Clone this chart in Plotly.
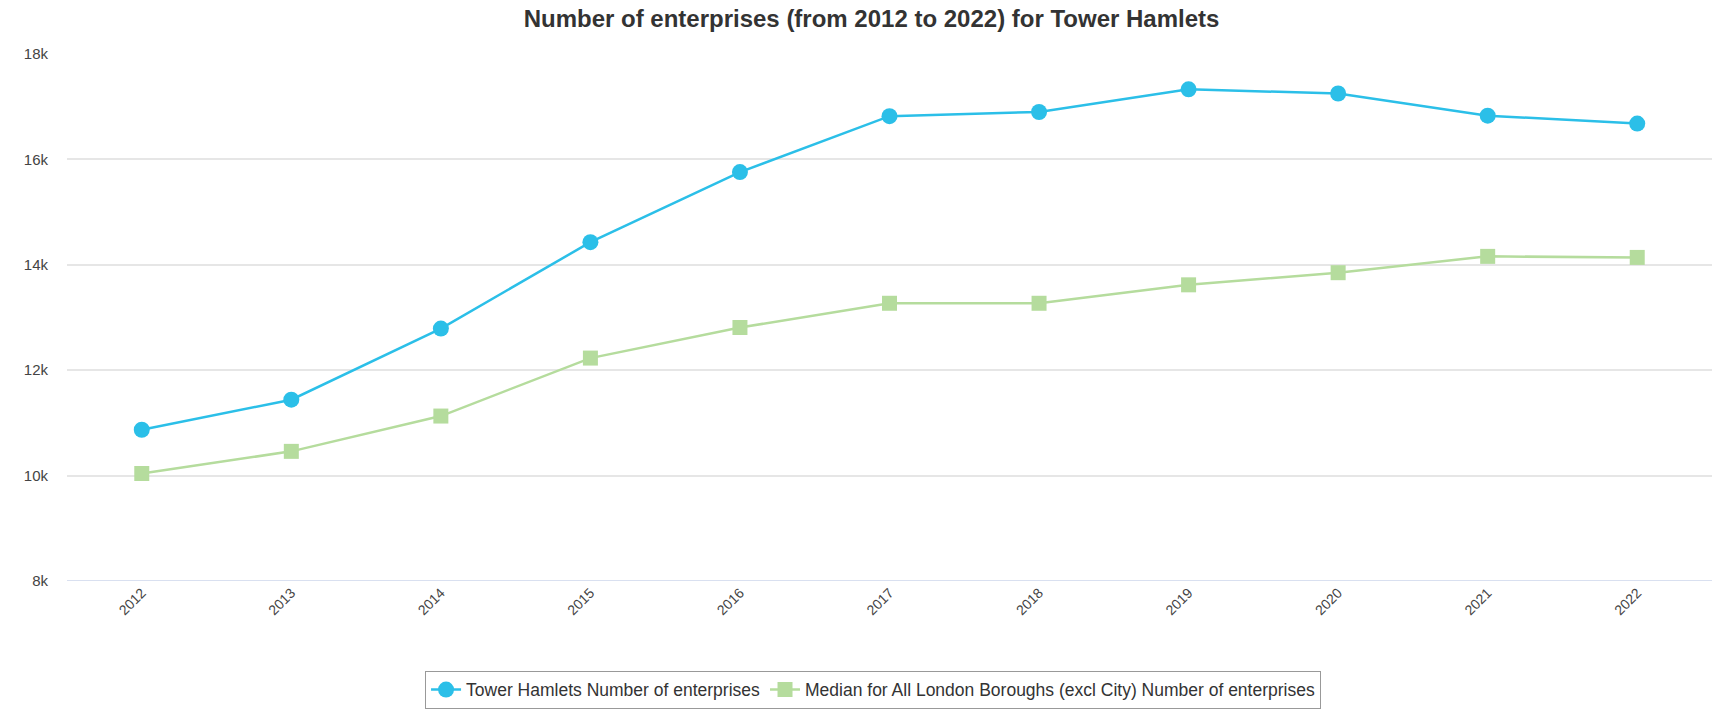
import plotly.graph_objects as go

years = ["2012", "2013", "2014", "2015", "2016", "2017", "2018", "2019", "2020", "2021", "2022"]
tower_hamlets = [10870, 11440, 12790, 14430, 15760, 16820, 16900, 17330, 17250, 16830, 16680]
london_median = [10040, 10460, 11130, 12230, 12810, 13270, 13270, 13620, 13850, 14160, 14140]

y_ticks = [8000, 10000, 12000, 14000, 16000, 18000]
y_tick_text = ["8k", "10k", "12k", "14k", "16k", "18k"]

BLUE = "#2BBFE8"
GREEN = "#B5DC9D"
FONT = "Liberation Sans, Arial, sans-serif"

fig = go.Figure()
fig.add_trace(go.Scatter(
    x=years, y=tower_hamlets, mode="lines+markers",
    name="Tower Hamlets Number of enterprises",
    line=dict(color=BLUE, width=2.5),
    marker=dict(symbol="circle", size=16, color=BLUE),
))
fig.add_trace(go.Scatter(
    x=years, y=london_median, mode="lines+markers",
    name="Median for All London Boroughs (excl City) Number of enterprises",
    line=dict(color=GREEN, width=2.5),
    marker=dict(symbol="square", size=15, color=GREEN),
))

fig.update_layout(
    width=1719, height=715,
    paper_bgcolor="white", plot_bgcolor="white",
    margin=dict(l=67, r=7, t=54, b=133),
    font=dict(family=FONT, color="#444444"),
    title=dict(
        text="<b>Number of enterprises (from 2012 to 2022) for Tower Hamlets</b>",
        x=0.507, xanchor="center", y=0.974, yanchor="middle",
        font=dict(size=24, color="#333333", family=FONT),
    ),
    xaxis=dict(
        type="category", range=[-0.5, 10.5],
        showgrid=False, zeroline=False, showline=False,
        tickangle=-45, tickfont=dict(size=14, color="#444444"),
        ticks="",
    ),
    yaxis=dict(
        range=[8000, 18000], tickvals=y_ticks, ticktext=y_tick_text,
        showgrid=True, gridcolor="#E6E6E6", gridwidth=1.5,
        zeroline=False, showline=False,
        tickfont=dict(size=15, color="#444444"), ticks="",
        ticklabelstandoff=18,
    ),
    legend=dict(
        orientation="h", x=0.49, xanchor="center", y=-0.168, yanchor="top",
        bordercolor="#999999", borderwidth=1, bgcolor="white",
        font=dict(size=17.5, color="#333333"),
        itemwidth=30,
    ),
    showlegend=True,
)

# baseline at 8k drawn in a light blue-grey
fig.add_shape(type="line", xref="paper", yref="y", x0=0, x1=1, y0=8000, y1=8000,
              line=dict(color="#CCD6EB", width=1.5), layer="below")

fig.write_html("out.html")
